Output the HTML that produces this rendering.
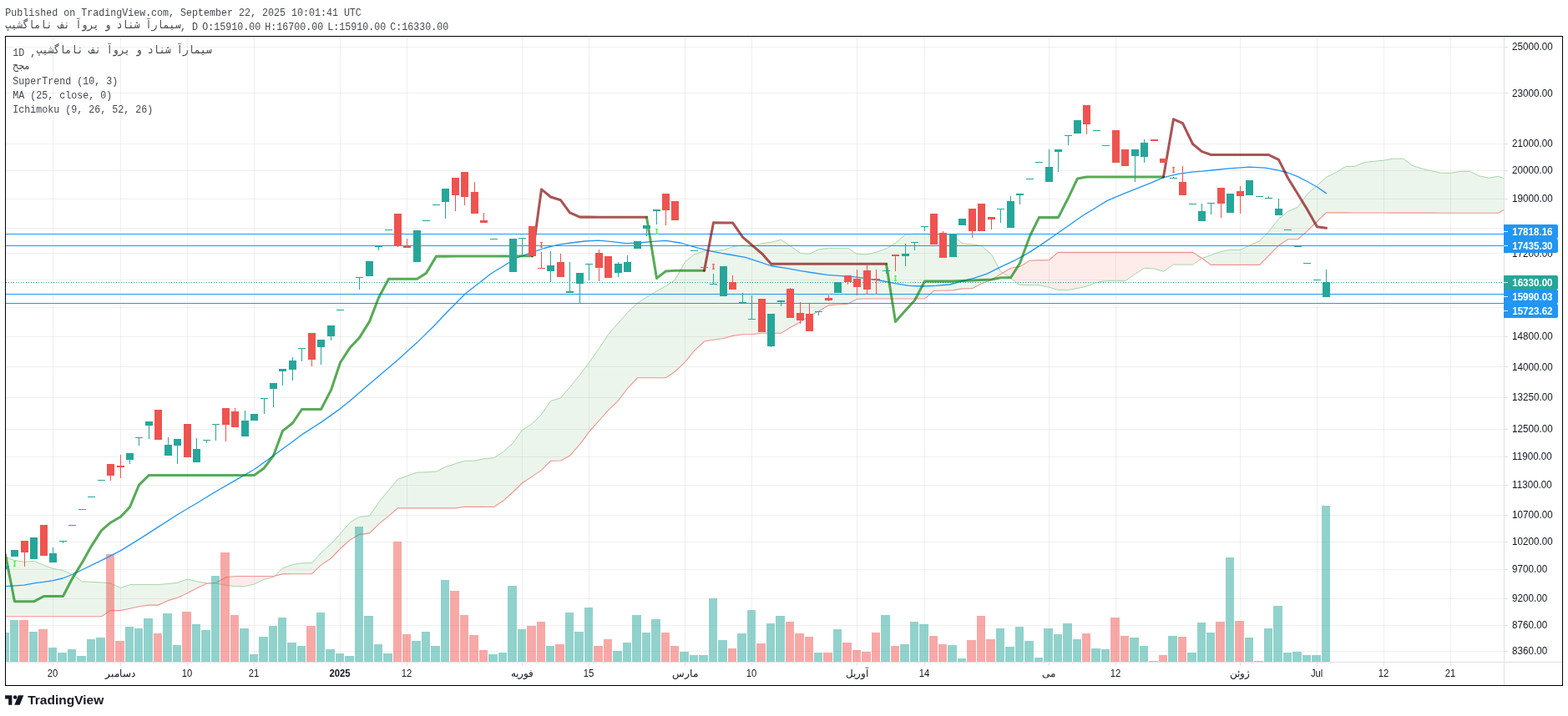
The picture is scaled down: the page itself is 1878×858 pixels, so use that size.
<!DOCTYPE html><html><head><meta charset="utf-8"><title>chart</title><style>html,body{margin:0;padding:0;background:#fff}body{width:1878px;height:858px;position:relative;overflow:hidden;font-family:"Liberation Sans",sans-serif}</style></head><body><svg width="1878" height="858" viewBox="0 0 1878 858" style="position:absolute;left:0;top:0;will-change:transform">
<defs><clipPath id="cp"><rect x="7" y="44" width="1794" height="749"/></clipPath>
</defs>
<rect width="1878" height="858" fill="#fff"/>
<g shape-rendering="crispEdges" fill="rgb(42,46,57)" fill-opacity="0.07"><rect x="7" y="56" width="1794" height="1"/><rect x="7" y="111" width="1794" height="1"/><rect x="7" y="172" width="1794" height="1"/><rect x="7" y="204" width="1794" height="1"/><rect x="7" y="238" width="1794" height="1"/><rect x="7" y="273" width="1794" height="1"/><rect x="7" y="303" width="1794" height="1"/><rect x="7" y="335" width="1794" height="1"/><rect x="7" y="368" width="1794" height="1"/><rect x="7" y="403" width="1794" height="1"/><rect x="7" y="439" width="1794" height="1"/><rect x="7" y="476" width="1794" height="1"/><rect x="7" y="514" width="1794" height="1"/><rect x="7" y="547" width="1794" height="1"/><rect x="7" y="581" width="1794" height="1"/><rect x="7" y="617" width="1794" height="1"/><rect x="7" y="649" width="1794" height="1"/><rect x="7" y="682" width="1794" height="1"/><rect x="7" y="717" width="1794" height="1"/><rect x="7" y="749" width="1794" height="1"/><rect x="7" y="780" width="1794" height="1"/><rect x="63" y="44" width="1" height="749"/><rect x="144" y="44" width="1" height="749"/><rect x="224" y="44" width="1" height="749"/><rect x="304" y="44" width="1" height="749"/><rect x="407" y="44" width="1" height="749"/><rect x="487" y="44" width="1" height="749"/><rect x="625" y="44" width="1" height="749"/><rect x="705" y="44" width="1" height="749"/><rect x="820" y="44" width="1" height="749"/><rect x="900" y="44" width="1" height="749"/><rect x="1026" y="44" width="1" height="749"/><rect x="1107" y="44" width="1" height="749"/><rect x="1256" y="44" width="1" height="749"/><rect x="1336" y="44" width="1" height="749"/><rect x="1485" y="44" width="1" height="749"/><rect x="1577" y="44" width="1" height="749"/><rect x="1657" y="44" width="1" height="749"/><rect x="1737" y="44" width="1" height="749"/></g>
<g clip-path="url(#cp)">
<path d="M6.5,667.7L17.5,671.5L17.5,738.7L6.5,738.7ZM17.5,671.5L29.5,673.3L29.5,738.7L17.5,738.7ZM29.5,673.3L40.5,672.3L40.5,738.7L29.5,738.7ZM40.5,672.3L52.5,677.3L52.5,738.7L40.5,738.7ZM52.5,677.3L63.5,681.4L63.5,738.7L52.5,738.7ZM63.5,681.4L75.5,683.6L75.5,738.7L63.5,738.7ZM75.5,683.6L86.5,688.5L86.5,738.7L75.5,738.7ZM86.5,688.5L98.5,697.0L98.5,738.7L86.5,738.7ZM98.5,697.0L109.5,697.4L109.5,738.7L98.5,738.7ZM109.5,697.4L121.5,698.0L121.5,738.7L109.5,738.7ZM121.5,698.0L132.5,699.0L132.5,731.6L121.5,738.7ZM132.5,699.0L144.5,704.5L144.5,731.6L132.5,731.6ZM144.5,704.5L155.5,700.6L155.5,729.2L144.5,731.6ZM155.5,700.6L166.5,700.6L166.5,726.7L155.5,729.2ZM166.5,700.6L178.5,700.6L178.5,725.1L166.5,726.7ZM178.5,700.6L189.5,700.6L189.5,725.1L178.5,725.1ZM189.5,700.6L201.5,699.5L201.5,719.6L189.5,725.1ZM201.5,699.5L212.5,698.3L212.5,716.3L201.5,719.6ZM212.5,698.3L224.5,694.1L224.5,710.7L212.5,716.3ZM224.5,694.1L235.5,696.7L235.5,704.9L224.5,710.7ZM235.5,696.7L247.5,699.0L247.5,699.3L235.5,704.9ZM247.5,699.0L250.8,699.0L247.5,699.3ZM329.0,690.1L338.5,681.0L338.5,687.9ZM338.5,681.0L350.5,676.5L350.5,687.8L338.5,687.9ZM350.5,676.5L361.5,674.8L361.5,687.7L350.5,687.8ZM361.5,674.8L373.5,674.5L373.5,687.6L361.5,687.7ZM373.5,674.5L384.5,662.4L384.5,677.1L373.5,687.6ZM384.5,662.4L396.5,651.7L396.5,669.0L384.5,677.1ZM396.5,651.7L407.5,639.6L407.5,657.5L396.5,669.0ZM407.5,639.6L419.5,625.9L419.5,646.8L407.5,657.5ZM419.5,625.9L430.5,619.3L430.5,640.6L419.5,646.8ZM430.5,619.3L442.5,618.4L442.5,638.9L430.5,640.6ZM442.5,618.4L453.5,602.0L453.5,628.1L442.5,638.9ZM453.5,602.0L465.5,587.3L465.5,618.4L453.5,628.1ZM465.5,587.3L476.5,574.3L476.5,608.9L465.5,618.4ZM476.5,574.3L487.5,570.4L487.5,608.9L476.5,608.9ZM487.5,570.4L499.5,566.1L499.5,608.9L487.5,608.9ZM499.5,566.1L510.5,565.8L510.5,608.9L499.5,608.9ZM510.5,565.8L522.5,565.1L522.5,608.9L510.5,608.9ZM522.5,565.1L533.5,559.6L533.5,608.9L522.5,608.9ZM533.5,559.6L545.5,555.7L545.5,608.9L533.5,608.9ZM545.5,555.7L556.5,552.4L556.5,607.3L545.5,608.9ZM556.5,552.4L568.5,552.1L568.5,607.4L556.5,607.3ZM568.5,552.1L579.5,549.7L579.5,607.4L568.5,607.4ZM579.5,549.7L591.5,548.7L591.5,607.5L579.5,607.4ZM591.5,548.7L602.5,541.6L602.5,600.3L591.5,607.5ZM602.5,541.6L614.5,530.8L614.5,589.5L602.5,600.3ZM614.5,530.8L625.5,515.1L625.5,578.8L614.5,589.5ZM625.5,515.1L637.5,507.9L637.5,570.9L625.5,578.8ZM637.5,507.9L648.5,496.5L648.5,563.4L637.5,570.9ZM648.5,496.5L659.5,480.5L659.5,552.3L648.5,563.4ZM659.5,480.5L671.5,476.9L671.5,552.0L659.5,552.3ZM671.5,476.9L682.5,463.9L682.5,546.1L671.5,552.0ZM682.5,463.9L694.5,449.2L694.5,532.4L682.5,546.1ZM694.5,449.2L705.5,434.5L705.5,517.7L694.5,532.4ZM705.5,434.5L717.5,417.5L717.5,504.0L705.5,517.7ZM717.5,417.5L728.5,400.8L728.5,491.6L717.5,504.0ZM728.5,400.8L740.5,387.1L740.5,480.2L728.5,491.6ZM740.5,387.1L751.5,374.5L751.5,465.5L740.5,480.2ZM751.5,374.5L763.5,363.2L763.5,452.8L751.5,465.5ZM763.5,363.2L774.5,356.1L774.5,452.8L763.5,452.8ZM774.5,356.1L786.5,348.9L786.5,452.8L774.5,452.8ZM786.5,348.9L797.5,342.7L797.5,452.8L786.5,452.8ZM797.5,342.7L808.5,335.3L808.5,445.2L797.5,452.8ZM808.5,335.3L820.5,313.9L820.5,433.8L808.5,445.2ZM820.5,313.9L831.5,304.7L831.5,420.4L820.5,433.8ZM831.5,304.7L843.5,300.8L843.5,409.0L831.5,420.4ZM843.5,300.8L854.5,300.7L854.5,407.3L843.5,409.0ZM854.5,300.7L866.5,299.6L866.5,405.5L854.5,407.3ZM866.5,299.6L877.5,295.8L877.5,402.4L866.5,405.5ZM877.5,295.8L889.5,293.7L889.5,400.8L877.5,402.4ZM889.5,293.7L900.5,296.0L900.5,400.8L889.5,400.8ZM900.5,296.0L912.5,291.7L912.5,399.2L900.5,400.8ZM912.5,291.7L923.5,290.4L923.5,399.2L912.5,399.2ZM923.5,290.4L935.5,287.2L935.5,399.2L923.5,399.2ZM935.5,287.2L946.5,294.7L946.5,392.6L935.5,399.2ZM946.5,294.7L958.5,303.2L958.5,386.1L946.5,392.6ZM958.5,303.2L969.5,304.5L969.5,378.6L958.5,386.1ZM969.5,304.5L980.5,298.9L980.5,373.0L969.5,378.6ZM980.5,298.9L992.5,297.3L992.5,365.9L980.5,373.0ZM992.5,297.3L1003.5,297.3L1003.5,365.0L992.5,365.9ZM1003.5,297.3L1015.5,297.3L1015.5,364.2L1003.5,365.0ZM1015.5,297.3L1026.5,304.5L1026.5,358.3L1015.5,364.2ZM1026.5,304.5L1038.5,304.8L1038.5,358.0L1026.5,358.3ZM1038.5,304.8L1049.5,302.2L1049.5,358.0L1038.5,358.0ZM1049.5,302.2L1061.5,297.9L1061.5,358.0L1049.5,358.0ZM1061.5,297.9L1072.5,291.4L1072.5,358.0L1061.5,358.0ZM1072.5,291.4L1084.5,281.0L1084.5,358.0L1072.5,358.0ZM1084.5,281.0L1095.5,280.3L1095.5,358.0L1084.5,358.0ZM1095.5,280.3L1107.5,280.3L1107.5,358.0L1095.5,358.0ZM1107.5,280.3L1118.5,280.4L1118.5,348.5L1107.5,358.0ZM1118.5,280.4L1129.5,280.6L1129.5,348.2L1118.5,348.5ZM1129.5,280.6L1141.5,281.6L1141.5,347.9L1129.5,348.2ZM1141.5,281.6L1152.5,291.8L1152.5,345.9L1141.5,347.9ZM1152.5,291.8L1164.5,292.8L1164.5,345.8L1152.5,345.9ZM1164.5,292.8L1175.5,294.5L1175.5,340.0L1164.5,345.8ZM1175.5,294.5L1187.5,305.0L1187.5,335.1L1175.5,340.0ZM1187.5,305.0L1198.5,325.3L1198.5,328.5L1187.5,335.1ZM1198.5,325.3L1201.0,327.0L1198.5,328.5ZM1439.5,309.5L1450.5,305.6L1450.5,317.4L1439.5,309.5ZM1450.5,305.6L1462.5,301.4L1462.5,317.4L1450.5,317.4ZM1462.5,301.4L1473.5,299.4L1473.5,317.4L1462.5,317.4ZM1473.5,299.4L1485.5,299.4L1485.5,317.4L1473.5,317.4ZM1485.5,299.4L1496.5,294.2L1496.5,317.4L1485.5,317.4ZM1496.5,294.2L1508.5,289.0L1508.5,317.4L1496.5,317.4ZM1508.5,289.0L1519.5,277.6L1519.5,306.3L1508.5,317.4ZM1519.5,277.6L1531.5,262.2L1531.5,294.2L1519.5,306.3ZM1531.5,262.2L1542.5,253.4L1542.5,286.7L1531.5,294.2ZM1542.5,253.4L1554.5,248.2L1554.5,286.7L1542.5,286.7ZM1554.5,248.2L1565.5,232.8L1565.5,276.9L1554.5,286.7ZM1565.5,232.8L1577.5,222.4L1577.5,265.5L1565.5,276.9ZM1577.5,222.4L1588.5,212.3L1588.5,254.9L1577.5,265.5ZM1588.5,212.3L1600.5,206.5L1600.5,254.9L1588.5,254.9ZM1600.5,206.5L1611.5,199.5L1611.5,254.9L1600.5,254.9ZM1611.5,199.5L1622.5,199.4L1622.5,255.0L1611.5,254.9ZM1622.5,199.4L1634.5,194.3L1634.5,255.0L1622.5,255.0ZM1634.5,194.3L1645.5,193.4L1645.5,255.0L1634.5,255.0ZM1645.5,193.4L1657.5,192.1L1657.5,255.0L1645.5,255.0ZM1657.5,192.1L1668.5,190.2L1668.5,255.1L1657.5,255.0ZM1668.5,190.2L1680.5,190.2L1680.5,255.1L1668.5,255.1ZM1680.5,190.2L1691.5,198.3L1691.5,255.1L1680.5,255.1ZM1691.5,198.3L1703.5,202.2L1703.5,255.1L1691.5,255.1ZM1703.5,202.2L1714.5,204.8L1714.5,255.1L1703.5,255.1ZM1714.5,204.8L1726.5,207.3L1726.5,255.2L1714.5,255.1ZM1726.5,207.3L1737.5,207.3L1737.5,255.2L1726.5,255.2ZM1737.5,207.3L1749.5,205.4L1749.5,255.2L1737.5,255.2ZM1749.5,205.4L1760.5,205.3L1760.5,255.2L1749.5,255.2ZM1760.5,205.3L1771.5,210.8L1771.5,255.3L1760.5,255.2ZM1771.5,210.8L1783.5,213.3L1783.5,255.3L1771.5,255.3ZM1783.5,213.3L1794.5,211.2L1794.5,255.3L1783.5,255.3ZM1794.5,211.2L1806.5,215.9L1806.5,248.5L1794.5,255.3Z" fill="rgba(67,160,71,0.1)"/>
<path d="M250.8,699.0L258.5,699.0L258.5,698.3ZM258.5,699.0L270.5,701.3L270.5,691.8L258.5,698.3ZM270.5,701.3L281.5,702.6L281.5,690.5L270.5,691.8ZM281.5,702.6L293.5,702.6L293.5,690.5L281.5,690.5ZM293.5,702.6L304.5,700.0L304.5,690.5L293.5,690.5ZM304.5,700.0L316.5,694.1L316.5,690.5L304.5,690.5ZM316.5,694.1L327.5,691.6L327.5,690.5L316.5,690.5ZM327.5,691.6L329.0,690.1L327.5,690.5ZM1201.0,327.0L1210.5,333.4L1210.5,321.3ZM1210.5,333.4L1221.5,341.6L1221.5,319.4L1210.5,321.3ZM1221.5,341.6L1233.5,341.6L1233.5,312.2L1221.5,319.4ZM1233.5,341.6L1244.5,341.6L1244.5,311.9L1233.5,312.2ZM1244.5,341.6L1256.5,344.2L1256.5,311.6L1244.5,311.9ZM1256.5,344.2L1267.5,347.5L1267.5,302.4L1256.5,311.6ZM1267.5,347.5L1279.5,347.5L1279.5,302.4L1267.5,302.4ZM1279.5,347.5L1290.5,345.5L1290.5,302.4L1279.5,302.4ZM1290.5,345.5L1301.5,343.2L1301.5,302.4L1290.5,302.4ZM1301.5,343.2L1313.5,338.3L1313.5,302.4L1301.5,302.4ZM1313.5,338.3L1324.5,336.7L1324.5,302.4L1313.5,302.4ZM1324.5,336.7L1336.5,336.7L1336.5,302.4L1324.5,302.4ZM1336.5,336.7L1347.5,336.7L1347.5,302.4L1336.5,302.4ZM1347.5,336.7L1359.5,328.5L1359.5,302.4L1347.5,302.4ZM1359.5,328.5L1370.5,321.3L1370.5,302.4L1359.5,302.4ZM1370.5,321.3L1382.5,322.0L1382.5,302.4L1370.5,302.4ZM1382.5,322.0L1393.5,325.3L1393.5,302.4L1382.5,302.4ZM1393.5,325.3L1405.5,317.1L1405.5,302.4L1393.5,302.4ZM1405.5,317.1L1416.5,317.1L1416.5,302.4L1405.5,302.4ZM1416.5,317.1L1428.5,317.1L1428.5,302.4L1416.5,302.4ZM1428.5,317.1L1439.5,309.5L1439.5,309.5L1428.5,302.4Z" fill="rgba(244,67,54,0.1)"/>
<polyline fill="none" stroke="#a5d6a7" stroke-width="1" points="6.5,667.7 17.5,671.5 29.5,673.3 40.5,672.3 52.5,677.3 63.5,681.4 75.5,683.6 86.5,688.5 98.5,697.0 109.5,697.4 121.5,698.0 132.5,699.0 144.5,704.5 155.5,700.6 166.5,700.6 178.5,700.6 189.5,700.6 201.5,699.5 212.5,698.3 224.5,694.1 235.5,696.7 247.5,699.0 258.5,699.0 270.5,701.3 281.5,702.6 293.5,702.6 304.5,700.0 316.5,694.1 327.5,691.6 338.5,681.0 350.5,676.5 361.5,674.8 373.5,674.5 384.5,662.4 396.5,651.7 407.5,639.6 419.5,625.9 430.5,619.3 442.5,618.4 453.5,602.0 465.5,587.3 476.5,574.3 487.5,570.4 499.5,566.1 510.5,565.8 522.5,565.1 533.5,559.6 545.5,555.7 556.5,552.4 568.5,552.1 579.5,549.7 591.5,548.7 602.5,541.6 614.5,530.8 625.5,515.1 637.5,507.9 648.5,496.5 659.5,480.5 671.5,476.9 682.5,463.9 694.5,449.2 705.5,434.5 717.5,417.5 728.5,400.8 740.5,387.1 751.5,374.5 763.5,363.2 774.5,356.1 786.5,348.9 797.5,342.7 808.5,335.3 820.5,313.9 831.5,304.7 843.5,300.8 854.5,300.7 866.5,299.6 877.5,295.8 889.5,293.7 900.5,296.0 912.5,291.7 923.5,290.4 935.5,287.2 946.5,294.7 958.5,303.2 969.5,304.5 980.5,298.9 992.5,297.3 1003.5,297.3 1015.5,297.3 1026.5,304.5 1038.5,304.8 1049.5,302.2 1061.5,297.9 1072.5,291.4 1084.5,281.0 1095.5,280.3 1107.5,280.3 1118.5,280.4 1129.5,280.6 1141.5,281.6 1152.5,291.8 1164.5,292.8 1175.5,294.5 1187.5,305.0 1198.5,325.3 1210.5,333.4 1221.5,341.6 1233.5,341.6 1244.5,341.6 1256.5,344.2 1267.5,347.5 1279.5,347.5 1290.5,345.5 1301.5,343.2 1313.5,338.3 1324.5,336.7 1336.5,336.7 1347.5,336.7 1359.5,328.5 1370.5,321.3 1382.5,322.0 1393.5,325.3 1405.5,317.1 1416.5,317.1 1428.5,317.1 1439.5,309.5 1450.5,305.6 1462.5,301.4 1473.5,299.4 1485.5,299.4 1496.5,294.2 1508.5,289.0 1519.5,277.6 1531.5,262.2 1542.5,253.4 1554.5,248.2 1565.5,232.8 1577.5,222.4 1588.5,212.3 1600.5,206.5 1611.5,199.5 1622.5,199.4 1634.5,194.3 1645.5,193.4 1657.5,192.1 1668.5,190.2 1680.5,190.2 1691.5,198.3 1703.5,202.2 1714.5,204.8 1726.5,207.3 1737.5,207.3 1749.5,205.4 1760.5,205.3 1771.5,210.8 1783.5,213.3 1794.5,211.2 1806.5,215.9"/>
<polyline fill="none" stroke="#ee9490" stroke-width="1.1" points="6.5,738.7 17.5,738.7 29.5,738.7 40.5,738.7 52.5,738.7 63.5,738.7 75.5,738.7 86.5,738.7 98.5,738.7 109.5,738.7 121.5,738.7 132.5,731.6 144.5,731.6 155.5,729.2 166.5,726.7 178.5,725.1 189.5,725.1 201.5,719.6 212.5,716.3 224.5,710.7 235.5,704.9 247.5,699.3 258.5,698.3 270.5,691.8 281.5,690.5 293.5,690.5 304.5,690.5 316.5,690.5 327.5,690.5 338.5,687.9 350.5,687.8 361.5,687.7 373.5,687.6 384.5,677.1 396.5,669.0 407.5,657.5 419.5,646.8 430.5,640.6 442.5,638.9 453.5,628.1 465.5,618.4 476.5,608.9 487.5,608.9 499.5,608.9 510.5,608.9 522.5,608.9 533.5,608.9 545.5,608.9 556.5,607.3 568.5,607.4 579.5,607.4 591.5,607.5 602.5,600.3 614.5,589.5 625.5,578.8 637.5,570.9 648.5,563.4 659.5,552.3 671.5,552.0 682.5,546.1 694.5,532.4 705.5,517.7 717.5,504.0 728.5,491.6 740.5,480.2 751.5,465.5 763.5,452.8 774.5,452.8 786.5,452.8 797.5,452.8 808.5,445.2 820.5,433.8 831.5,420.4 843.5,409.0 854.5,407.3 866.5,405.5 877.5,402.4 889.5,400.8 900.5,400.8 912.5,399.2 923.5,399.2 935.5,399.2 946.5,392.6 958.5,386.1 969.5,378.6 980.5,373.0 992.5,365.9 1003.5,365.0 1015.5,364.2 1026.5,358.3 1038.5,358.0 1049.5,358.0 1061.5,358.0 1072.5,358.0 1084.5,358.0 1095.5,358.0 1107.5,358.0 1118.5,348.5 1129.5,348.2 1141.5,347.9 1152.5,345.9 1164.5,345.8 1175.5,340.0 1187.5,335.1 1198.5,328.5 1210.5,321.3 1221.5,319.4 1233.5,312.2 1244.5,311.9 1256.5,311.6 1267.5,302.4 1279.5,302.4 1290.5,302.4 1301.5,302.4 1313.5,302.4 1324.5,302.4 1336.5,302.4 1347.5,302.4 1359.5,302.4 1370.5,302.4 1382.5,302.4 1393.5,302.4 1405.5,302.4 1416.5,302.4 1428.5,302.4 1439.5,309.5 1450.5,317.4 1462.5,317.4 1473.5,317.4 1485.5,317.4 1496.5,317.4 1508.5,317.4 1519.5,306.3 1531.5,294.2 1542.5,286.7 1554.5,286.7 1565.5,276.9 1577.5,265.5 1588.5,254.9 1600.5,254.9 1611.5,254.9 1622.5,255.0 1634.5,255.0 1645.5,255.0 1657.5,255.0 1668.5,255.1 1680.5,255.1 1691.5,255.1 1703.5,255.1 1714.5,255.1 1726.5,255.2 1737.5,255.2 1749.5,255.2 1760.5,255.2 1771.5,255.3 1783.5,255.3 1794.5,255.3 1806.5,248.5"/>
<g shape-rendering="crispEdges"><rect x="1" y="758" width="10" height="35" fill="rgba(38,166,154,0.5)"/><rect x="12" y="743" width="10" height="50" fill="rgba(38,166,154,0.5)"/><rect x="23" y="743" width="11" height="50" fill="rgba(239,83,80,0.5)"/><rect x="35" y="757" width="10" height="36" fill="rgba(38,166,154,0.5)"/><rect x="46" y="754" width="11" height="39" fill="rgba(239,83,80,0.5)"/><rect x="58" y="776" width="10" height="17" fill="rgba(38,166,154,0.5)"/><rect x="69" y="782" width="11" height="11" fill="rgba(38,166,154,0.5)"/><rect x="81" y="778" width="10" height="15" fill="rgba(38,166,154,0.5)"/><rect x="92" y="786" width="11" height="7" fill="rgba(38,166,154,0.5)"/><rect x="104" y="766" width="10" height="27" fill="rgba(38,166,154,0.5)"/><rect x="115" y="764" width="11" height="29" fill="rgba(38,166,154,0.5)"/><rect x="127" y="664" width="10" height="129" fill="rgba(239,83,80,0.5)"/><rect x="138" y="768" width="11" height="25" fill="rgba(239,83,80,0.5)"/><rect x="150" y="751" width="10" height="42" fill="rgba(38,166,154,0.5)"/><rect x="161" y="753" width="10" height="40" fill="rgba(38,166,154,0.5)"/><rect x="172" y="741" width="11" height="52" fill="rgba(38,166,154,0.5)"/><rect x="184" y="759" width="10" height="34" fill="rgba(239,83,80,0.5)"/><rect x="195" y="735" width="11" height="58" fill="rgba(38,166,154,0.5)"/><rect x="207" y="773" width="10" height="20" fill="rgba(38,166,154,0.5)"/><rect x="218" y="733" width="11" height="60" fill="rgba(239,83,80,0.5)"/><rect x="230" y="748" width="10" height="45" fill="rgba(38,166,154,0.5)"/><rect x="241" y="755" width="11" height="38" fill="rgba(38,166,154,0.5)"/><rect x="253" y="690" width="10" height="103" fill="rgba(38,166,154,0.5)"/><rect x="264" y="662" width="11" height="131" fill="rgba(239,83,80,0.5)"/><rect x="276" y="737" width="10" height="56" fill="rgba(239,83,80,0.5)"/><rect x="287" y="753" width="11" height="40" fill="rgba(38,166,154,0.5)"/><rect x="299" y="784" width="10" height="9" fill="rgba(38,166,154,0.5)"/><rect x="310" y="763" width="11" height="30" fill="rgba(38,166,154,0.5)"/><rect x="322" y="750" width="10" height="43" fill="rgba(38,166,154,0.5)"/><rect x="333" y="740" width="10" height="53" fill="rgba(38,166,154,0.5)"/><rect x="344" y="770" width="11" height="23" fill="rgba(38,166,154,0.5)"/><rect x="356" y="774" width="10" height="19" fill="rgba(38,166,154,0.5)"/><rect x="367" y="750" width="11" height="43" fill="rgba(239,83,80,0.5)"/><rect x="379" y="734" width="10" height="59" fill="rgba(38,166,154,0.5)"/><rect x="390" y="778" width="11" height="15" fill="rgba(38,166,154,0.5)"/><rect x="402" y="783" width="10" height="10" fill="rgba(38,166,154,0.5)"/><rect x="413" y="786" width="11" height="7" fill="rgba(38,166,154,0.5)"/><rect x="425" y="631" width="10" height="162" fill="rgba(38,166,154,0.5)"/><rect x="436" y="738" width="11" height="55" fill="rgba(38,166,154,0.5)"/><rect x="448" y="772" width="10" height="21" fill="rgba(38,166,154,0.5)"/><rect x="459" y="783" width="11" height="10" fill="rgba(38,166,154,0.5)"/><rect x="471" y="649" width="10" height="144" fill="rgba(239,83,80,0.5)"/><rect x="482" y="760" width="10" height="33" fill="rgba(239,83,80,0.5)"/><rect x="493" y="768" width="11" height="25" fill="rgba(38,166,154,0.5)"/><rect x="505" y="757" width="10" height="36" fill="rgba(38,166,154,0.5)"/><rect x="516" y="774" width="11" height="19" fill="rgba(38,166,154,0.5)"/><rect x="528" y="695" width="10" height="98" fill="rgba(38,166,154,0.5)"/><rect x="539" y="708" width="11" height="85" fill="rgba(239,83,80,0.5)"/><rect x="551" y="737" width="10" height="56" fill="rgba(239,83,80,0.5)"/><rect x="562" y="761" width="11" height="32" fill="rgba(239,83,80,0.5)"/><rect x="574" y="779" width="10" height="14" fill="rgba(239,83,80,0.5)"/><rect x="585" y="784" width="11" height="9" fill="rgba(38,166,154,0.5)"/><rect x="597" y="782" width="10" height="11" fill="rgba(38,166,154,0.5)"/><rect x="608" y="702" width="11" height="91" fill="rgba(38,166,154,0.5)"/><rect x="620" y="754" width="10" height="39" fill="rgba(38,166,154,0.5)"/><rect x="631" y="750" width="11" height="43" fill="rgba(239,83,80,0.5)"/><rect x="643" y="745" width="10" height="48" fill="rgba(239,83,80,0.5)"/><rect x="654" y="774" width="10" height="19" fill="rgba(38,166,154,0.5)"/><rect x="665" y="772" width="11" height="21" fill="rgba(239,83,80,0.5)"/><rect x="677" y="734" width="10" height="59" fill="rgba(38,166,154,0.5)"/><rect x="688" y="757" width="11" height="36" fill="rgba(38,166,154,0.5)"/><rect x="700" y="728" width="10" height="65" fill="rgba(38,166,154,0.5)"/><rect x="711" y="774" width="11" height="19" fill="rgba(239,83,80,0.5)"/><rect x="723" y="766" width="10" height="27" fill="rgba(239,83,80,0.5)"/><rect x="734" y="780" width="11" height="13" fill="rgba(38,166,154,0.5)"/><rect x="746" y="770" width="10" height="23" fill="rgba(38,166,154,0.5)"/><rect x="757" y="737" width="11" height="56" fill="rgba(38,166,154,0.5)"/><rect x="769" y="758" width="10" height="35" fill="rgba(38,166,154,0.5)"/><rect x="780" y="742" width="11" height="51" fill="rgba(38,166,154,0.5)"/><rect x="792" y="758" width="10" height="35" fill="rgba(239,83,80,0.5)"/><rect x="803" y="774" width="10" height="19" fill="rgba(239,83,80,0.5)"/><rect x="814" y="781" width="11" height="12" fill="rgba(38,166,154,0.5)"/><rect x="826" y="785" width="10" height="8" fill="rgba(38,166,154,0.5)"/><rect x="837" y="785" width="11" height="8" fill="rgba(38,166,154,0.5)"/><rect x="849" y="717" width="10" height="76" fill="rgba(38,166,154,0.5)"/><rect x="860" y="767" width="11" height="26" fill="rgba(38,166,154,0.5)"/><rect x="872" y="777" width="10" height="16" fill="rgba(239,83,80,0.5)"/><rect x="883" y="759" width="11" height="34" fill="rgba(38,166,154,0.5)"/><rect x="895" y="731" width="10" height="62" fill="rgba(38,166,154,0.5)"/><rect x="906" y="771" width="11" height="22" fill="rgba(239,83,80,0.5)"/><rect x="918" y="747" width="10" height="46" fill="rgba(38,166,154,0.5)"/><rect x="929" y="738" width="11" height="55" fill="rgba(38,166,154,0.5)"/><rect x="941" y="745" width="10" height="48" fill="rgba(239,83,80,0.5)"/><rect x="952" y="759" width="11" height="34" fill="rgba(239,83,80,0.5)"/><rect x="964" y="763" width="10" height="30" fill="rgba(239,83,80,0.5)"/><rect x="975" y="782" width="10" height="11" fill="rgba(38,166,154,0.5)"/><rect x="986" y="782" width="11" height="11" fill="rgba(239,83,80,0.5)"/><rect x="998" y="754" width="10" height="39" fill="rgba(38,166,154,0.5)"/><rect x="1009" y="770" width="11" height="23" fill="rgba(239,83,80,0.5)"/><rect x="1021" y="779" width="10" height="14" fill="rgba(239,83,80,0.5)"/><rect x="1032" y="781" width="11" height="12" fill="rgba(239,83,80,0.5)"/><rect x="1044" y="758" width="10" height="35" fill="rgba(239,83,80,0.5)"/><rect x="1055" y="737" width="11" height="56" fill="rgba(38,166,154,0.5)"/><rect x="1067" y="774" width="10" height="19" fill="rgba(239,83,80,0.5)"/><rect x="1078" y="772" width="11" height="21" fill="rgba(38,166,154,0.5)"/><rect x="1090" y="745" width="10" height="48" fill="rgba(38,166,154,0.5)"/><rect x="1101" y="748" width="11" height="45" fill="rgba(38,166,154,0.5)"/><rect x="1113" y="762" width="10" height="31" fill="rgba(239,83,80,0.5)"/><rect x="1124" y="772" width="10" height="21" fill="rgba(239,83,80,0.5)"/><rect x="1135" y="773" width="11" height="20" fill="rgba(38,166,154,0.5)"/><rect x="1147" y="789" width="10" height="4" fill="rgba(38,166,154,0.5)"/><rect x="1158" y="767" width="11" height="26" fill="rgba(239,83,80,0.5)"/><rect x="1170" y="738" width="10" height="55" fill="rgba(239,83,80,0.5)"/><rect x="1181" y="766" width="11" height="27" fill="rgba(239,83,80,0.5)"/><rect x="1193" y="753" width="10" height="40" fill="rgba(38,166,154,0.5)"/><rect x="1204" y="775" width="11" height="18" fill="rgba(38,166,154,0.5)"/><rect x="1216" y="751" width="10" height="42" fill="rgba(38,166,154,0.5)"/><rect x="1227" y="768" width="11" height="25" fill="rgba(38,166,154,0.5)"/><rect x="1239" y="788" width="10" height="5" fill="rgba(38,166,154,0.5)"/><rect x="1250" y="753" width="11" height="40" fill="rgba(38,166,154,0.5)"/><rect x="1262" y="760" width="10" height="33" fill="rgba(38,166,154,0.5)"/><rect x="1273" y="747" width="11" height="46" fill="rgba(38,166,154,0.5)"/><rect x="1285" y="766" width="10" height="27" fill="rgba(38,166,154,0.5)"/><rect x="1296" y="759" width="10" height="34" fill="rgba(239,83,80,0.5)"/><rect x="1307" y="777" width="11" height="16" fill="rgba(38,166,154,0.5)"/><rect x="1319" y="778" width="10" height="15" fill="rgba(38,166,154,0.5)"/><rect x="1330" y="740" width="11" height="53" fill="rgba(239,83,80,0.5)"/><rect x="1342" y="762" width="10" height="31" fill="rgba(239,83,80,0.5)"/><rect x="1353" y="764" width="11" height="29" fill="rgba(38,166,154,0.5)"/><rect x="1365" y="774" width="10" height="19" fill="rgba(38,166,154,0.5)"/><rect x="1376" y="792" width="11" height="1" fill="rgba(239,83,80,0.5)"/><rect x="1388" y="785" width="10" height="8" fill="rgba(239,83,80,0.5)"/><rect x="1399" y="762" width="11" height="31" fill="rgba(38,166,154,0.5)"/><rect x="1411" y="763" width="10" height="30" fill="rgba(239,83,80,0.5)"/><rect x="1422" y="782" width="11" height="11" fill="rgba(38,166,154,0.5)"/><rect x="1434" y="746" width="10" height="47" fill="rgba(38,166,154,0.5)"/><rect x="1445" y="758" width="10" height="35" fill="rgba(38,166,154,0.5)"/><rect x="1456" y="745" width="11" height="48" fill="rgba(239,83,80,0.5)"/><rect x="1468" y="668" width="10" height="125" fill="rgba(38,166,154,0.5)"/><rect x="1479" y="744" width="11" height="49" fill="rgba(239,83,80,0.5)"/><rect x="1491" y="764" width="10" height="29" fill="rgba(38,166,154,0.5)"/><rect x="1502" y="792" width="11" height="1" fill="rgba(38,166,154,0.5)"/><rect x="1514" y="753" width="10" height="40" fill="rgba(38,166,154,0.5)"/><rect x="1525" y="726" width="11" height="67" fill="rgba(38,166,154,0.5)"/><rect x="1537" y="782" width="10" height="11" fill="rgba(38,166,154,0.5)"/><rect x="1548" y="781" width="11" height="12" fill="rgba(38,166,154,0.5)"/><rect x="1560" y="785" width="10" height="8" fill="rgba(38,166,154,0.5)"/><rect x="1571" y="785" width="11" height="8" fill="rgba(38,166,154,0.5)"/><rect x="1583" y="606" width="10" height="187" fill="rgba(38,166,154,0.5)"/></g>
<g shape-rendering="crispEdges" fill="#2196f3"><rect x="7" y="280" width="1794" height="1"/><rect x="7" y="294" width="1794" height="1"/><rect x="7" y="352" width="1794" height="1"/><rect x="7" y="363" width="1794" height="1"/></g>
<line x1="7" y1="338.5" x2="1801" y2="338.5" stroke="#26a69a" stroke-width="1" stroke-dasharray="1 2" shape-rendering="crispEdges"/>
<polyline fill="none" stroke="#2196f3" stroke-width="1.3" stroke-linejoin="round" points="6.4,702.7 28.8,701.1 40.9,698.8 52.2,697.4 63.7,695.7 75.1,693.0 86.5,688.5 97.9,683.0 121.4,671.6 144.0,660.1 166.8,646.1 189.7,631.4 212.5,616.7 235.7,603.0 258.6,589.0 281.4,575.9 304.5,562.5 327.5,546.0 350.4,529.2 361.9,520.6 384.8,505.9 407.7,489.6 419.2,480.2 442.1,460.4 475.9,431.8 499.4,410.6 521.6,388.7 534.7,374.7 557.5,351.8 574.9,338.3 587.9,328.0 602.6,319.0 619.0,309.0 635.3,303.1 651.6,297.5 667.9,293.3 684.3,291.0 700.6,289.0 716.9,288.1 733.2,289.7 749.6,291.7 765.9,291.0 782.2,289.4 797.5,288.4 814.9,291.0 831.2,295.9 847.5,300.1 863.8,303.4 876.3,305.5 892.6,308.4 909.0,313.6 923.3,318.5 941.6,321.4 957.9,324.4 974.3,327.0 990.6,329.3 1006.9,330.6 1023.2,331.9 1039.6,333.9 1055.9,336.5 1072.2,339.7 1088.5,342.3 1104.9,343.0 1121.2,342.3 1137.5,341.0 1150.0,337.5 1166.3,333.4 1182.6,327.9 1199.0,319.7 1215.3,312.2 1231.6,303.1 1247.9,292.6 1264.3,281.2 1280.6,269.8 1296.9,258.3 1313.2,248.5 1326.3,240.4 1345.9,232.2 1362.2,225.7 1378.5,219.2 1393.6,212.6 1411.2,208.4 1427.5,206.1 1440.0,205.2 1456.3,203.5 1472.6,201.8 1496.5,200.2 1515.1,201.2 1531.4,204.1 1542.5,207.0 1554.3,211.6 1565.7,217.5 1577.4,224.0 1588.8,231.9"/>
<polyline fill="none" stroke="rgba(0,128,0,0.66)" stroke-width="3.05" stroke-linejoin="round" stroke-linecap="round" points="6.5,664.5 17.5,720.8 29.5,720.8 40.5,720.8 52.5,714.5 63.5,714.5 75.5,714.5 86.5,693.4 98.5,673.9 109.5,654.3 121.5,635.7 132.5,626.2 144.5,619.3 155.5,607.6 166.5,581.1 178.5,569.4 189.5,569.4 201.5,569.4 212.5,569.4 224.5,569.4 235.5,569.4 247.5,569.4 258.5,569.4 270.5,569.4 281.5,569.4 293.5,569.4 304.5,569.4 316.5,560.7 327.5,546.0 338.5,516.4 350.5,507.0 361.5,490.5 373.5,490.5 384.5,490.5 396.5,467.4 407.5,434.5 419.5,416.2 430.5,404.6 442.5,385.4 453.5,356.7 465.5,334.2 476.5,334.2 487.5,334.2 499.5,334.2 510.5,327.3 522.5,307.1 533.5,307.1 545.5,307.0 556.5,307.0 568.5,307.0 579.5,307.0 591.5,306.9 602.5,306.9 614.5,306.9 625.5,306.8 637.5,306.8"/>
<polyline fill="none" stroke="rgba(128,0,0,0.67)" stroke-width="3.05" stroke-linejoin="round" stroke-linecap="round" points="637.5,306.8 648.5,226.9 659.5,236.0 671.5,239.8 682.5,254.8 694.5,260.1 705.5,260.1 717.5,260.2 728.5,260.2 740.5,260.2 751.5,260.2 763.5,260.3 774.5,260.3"/>
<polyline fill="none" stroke="rgba(0,128,0,0.66)" stroke-width="3.05" stroke-linejoin="round" stroke-linecap="round" points="774.5,260.3 786.5,333.4 797.5,325.0 808.5,324.3 820.5,324.3 831.5,324.3 843.5,324.3"/>
<polyline fill="none" stroke="rgba(128,0,0,0.67)" stroke-width="3.05" stroke-linejoin="round" stroke-linecap="round" points="843.5,324.3 854.5,266.8 866.5,266.9 877.5,266.9 889.5,284.2 900.5,293.7 912.5,303.8 923.5,316.2 935.5,316.2 946.5,316.2 958.5,316.2 969.5,316.2 980.5,316.2 992.5,316.2 1003.5,316.2 1015.5,316.2 1026.5,316.2 1038.5,316.2 1049.5,316.2 1061.5,316.2"/>
<polyline fill="none" stroke="rgba(0,128,0,0.66)" stroke-width="3.05" stroke-linejoin="round" stroke-linecap="round" points="1061.5,316.2 1072.5,385.4 1084.5,372.0 1095.5,360.0 1107.5,337.1 1118.5,337.1 1129.5,337.1 1141.5,337.1 1152.5,336.5 1164.5,336.0 1175.5,335.5 1187.5,335.1 1198.5,332.8 1210.5,332.8 1221.5,315.5 1233.5,282.8 1244.5,260.6 1256.5,260.6 1267.5,260.6 1279.5,237.1 1290.5,213.9 1301.5,212.0 1313.5,212.0 1324.5,212.0 1336.5,212.0 1347.5,212.0 1359.5,212.0 1370.5,212.0 1382.5,212.0 1393.5,212.0"/>
<polyline fill="none" stroke="rgba(128,0,0,0.67)" stroke-width="3.05" stroke-linejoin="round" stroke-linecap="round" points="1393.5,212.0 1405.5,142.8 1416.5,147.7 1428.5,172.5 1439.5,181.6 1450.5,185.5 1462.5,185.5 1473.5,185.5 1485.5,185.5 1496.5,185.5 1508.5,185.5 1519.5,185.5 1531.5,191.4 1542.5,213.3 1554.5,232.8 1565.5,250.8 1577.5,271.7 1588.5,273.3"/>
<g shape-rendering="crispEdges"><rect x="2" y="678" width="9" height="4" fill="#26a69a"/><rect x="13" y="659" width="9" height="8" fill="#26a69a"/><rect x="29" y="648" width="1" height="31" fill="#ef5350"/><rect x="25" y="648" width="9" height="14" fill="#ef5350"/><rect x="36" y="644" width="9" height="26" fill="#26a69a"/><rect x="48" y="629" width="9" height="37" fill="#ef5350"/><rect x="63" y="656" width="1" height="18" fill="#26a69a"/><rect x="59" y="663" width="9" height="11" fill="#26a69a"/><rect x="75" y="648" width="1" height="3" fill="#26a69a"/><rect x="71" y="648" width="9" height="1" fill="#26a69a"/><rect x="82" y="629" width="9" height="1" fill="#26a69a"/><rect x="94" y="610" width="9" height="1" fill="#26a69a"/><rect x="105" y="595" width="9" height="1" fill="#26a69a"/><rect x="117" y="575" width="9" height="1" fill="#26a69a"/><rect x="132" y="556" width="1" height="20" fill="#ef5350"/><rect x="128" y="556" width="9" height="14" fill="#ef5350"/><rect x="144" y="545" width="1" height="28" fill="#ef5350"/><rect x="140" y="558" width="9" height="2" fill="#ef5350"/><rect x="155" y="543" width="1" height="13" fill="#26a69a"/><rect x="151" y="543" width="9" height="8" fill="#26a69a"/><rect x="166" y="524" width="1" height="10" fill="#26a69a"/><rect x="162" y="524" width="9" height="1" fill="#26a69a"/><rect x="178" y="505" width="1" height="21" fill="#26a69a"/><rect x="174" y="505" width="9" height="5" fill="#26a69a"/><rect x="185" y="491" width="9" height="36" fill="#ef5350"/><rect x="201" y="524" width="1" height="22" fill="#26a69a"/><rect x="197" y="533" width="9" height="13" fill="#26a69a"/><rect x="212" y="526" width="1" height="30" fill="#26a69a"/><rect x="208" y="526" width="9" height="8" fill="#26a69a"/><rect x="220" y="508" width="9" height="40" fill="#ef5350"/><rect x="235" y="525" width="1" height="29" fill="#26a69a"/><rect x="231" y="538" width="9" height="16" fill="#26a69a"/><rect x="247" y="527" width="1" height="4" fill="#26a69a"/><rect x="243" y="527" width="9" height="1" fill="#26a69a"/><rect x="258" y="508" width="1" height="20" fill="#26a69a"/><rect x="254" y="508" width="9" height="1" fill="#26a69a"/><rect x="270" y="489" width="1" height="40" fill="#ef5350"/><rect x="266" y="489" width="9" height="20" fill="#ef5350"/><rect x="281" y="489" width="1" height="23" fill="#ef5350"/><rect x="277" y="493" width="9" height="19" fill="#ef5350"/><rect x="293" y="492" width="1" height="31" fill="#26a69a"/><rect x="289" y="504" width="9" height="19" fill="#26a69a"/><rect x="300" y="496" width="9" height="8" fill="#26a69a"/><rect x="316" y="477" width="1" height="19" fill="#26a69a"/><rect x="312" y="477" width="9" height="1" fill="#26a69a"/><rect x="327" y="459" width="1" height="29" fill="#26a69a"/><rect x="323" y="459" width="9" height="7" fill="#26a69a"/><rect x="338" y="442" width="1" height="20" fill="#26a69a"/><rect x="334" y="442" width="9" height="3" fill="#26a69a"/><rect x="350" y="428" width="1" height="28" fill="#26a69a"/><rect x="346" y="432" width="9" height="11" fill="#26a69a"/><rect x="361" y="417" width="1" height="16" fill="#26a69a"/><rect x="357" y="417" width="9" height="1" fill="#26a69a"/><rect x="373" y="399" width="1" height="40" fill="#ef5350"/><rect x="369" y="399" width="9" height="32" fill="#ef5350"/><rect x="384" y="407" width="1" height="30" fill="#26a69a"/><rect x="380" y="407" width="9" height="9" fill="#26a69a"/><rect x="396" y="390" width="1" height="18" fill="#26a69a"/><rect x="392" y="390" width="9" height="13" fill="#26a69a"/><rect x="403" y="371" width="9" height="1" fill="#26a69a"/><rect x="415" y="352" width="9" height="1" fill="#26a69a"/><rect x="430" y="332" width="1" height="15" fill="#26a69a"/><rect x="426" y="332" width="9" height="1" fill="#26a69a"/><rect x="438" y="313" width="9" height="18" fill="#26a69a"/><rect x="453" y="295" width="1" height="5" fill="#26a69a"/><rect x="449" y="295" width="9" height="1" fill="#26a69a"/><rect x="461" y="275" width="9" height="1" fill="#26a69a"/><rect x="476" y="256" width="1" height="40" fill="#ef5350"/><rect x="472" y="256" width="9" height="39" fill="#ef5350"/><rect x="487" y="286" width="1" height="11" fill="#ef5350"/><rect x="483" y="295" width="9" height="2" fill="#ef5350"/><rect x="495" y="276" width="9" height="38" fill="#26a69a"/><rect x="506" y="264" width="9" height="1" fill="#26a69a"/><rect x="518" y="245" width="9" height="1" fill="#26a69a"/><rect x="533" y="226" width="1" height="36" fill="#26a69a"/><rect x="529" y="226" width="9" height="16" fill="#26a69a"/><rect x="545" y="213" width="1" height="40" fill="#ef5350"/><rect x="541" y="213" width="9" height="21" fill="#ef5350"/><rect x="556" y="206" width="1" height="40" fill="#ef5350"/><rect x="552" y="206" width="9" height="30" fill="#ef5350"/><rect x="568" y="218" width="1" height="38" fill="#ef5350"/><rect x="564" y="230" width="9" height="26" fill="#ef5350"/><rect x="579" y="255" width="1" height="12" fill="#ef5350"/><rect x="575" y="264" width="9" height="3" fill="#ef5350"/><rect x="587" y="286" width="9" height="1" fill="#26a69a"/><rect x="598" y="306" width="9" height="1" fill="#26a69a"/><rect x="610" y="286" width="9" height="40" fill="#26a69a"/><rect x="625" y="285" width="1" height="22" fill="#26a69a"/><rect x="621" y="285" width="9" height="1" fill="#26a69a"/><rect x="633" y="271" width="9" height="36" fill="#ef5350"/><rect x="648" y="302" width="1" height="20" fill="#ef5350"/><rect x="644" y="321" width="9" height="1" fill="#ef5350"/><rect x="659" y="301" width="1" height="37" fill="#26a69a"/><rect x="655" y="318" width="9" height="7" fill="#26a69a"/><rect x="671" y="304" width="1" height="28" fill="#ef5350"/><rect x="667" y="314" width="9" height="18" fill="#ef5350"/><rect x="682" y="314" width="1" height="37" fill="#26a69a"/><rect x="678" y="349" width="9" height="2" fill="#26a69a"/><rect x="694" y="327" width="1" height="36" fill="#26a69a"/><rect x="690" y="327" width="9" height="13" fill="#26a69a"/><rect x="705" y="316" width="1" height="20" fill="#26a69a"/><rect x="701" y="316" width="9" height="1" fill="#26a69a"/><rect x="717" y="299" width="1" height="38" fill="#ef5350"/><rect x="713" y="303" width="9" height="18" fill="#ef5350"/><rect x="724" y="307" width="9" height="26" fill="#ef5350"/><rect x="740" y="314" width="1" height="18" fill="#26a69a"/><rect x="736" y="316" width="9" height="11" fill="#26a69a"/><rect x="751" y="306" width="1" height="20" fill="#26a69a"/><rect x="747" y="314" width="9" height="12" fill="#26a69a"/><rect x="759" y="289" width="9" height="9" fill="#26a69a"/><rect x="774" y="270" width="1" height="13" fill="#26a69a"/><rect x="770" y="270" width="9" height="4" fill="#26a69a"/><rect x="786" y="251" width="1" height="18" fill="#26a69a"/><rect x="782" y="251" width="9" height="2" fill="#26a69a"/><rect x="797" y="232" width="1" height="38" fill="#ef5350"/><rect x="793" y="232" width="9" height="20" fill="#ef5350"/><rect x="804" y="241" width="9" height="23" fill="#ef5350"/><rect x="816" y="280" width="9" height="1" fill="#26a69a"/><rect x="827" y="300" width="9" height="1" fill="#26a69a"/><rect x="839" y="320" width="9" height="1" fill="#26a69a"/><rect x="854" y="328" width="1" height="13" fill="#26a69a"/><rect x="850" y="340" width="9" height="1" fill="#26a69a"/><rect x="862" y="319" width="9" height="36" fill="#26a69a"/><rect x="877" y="330" width="1" height="17" fill="#ef5350"/><rect x="873" y="338" width="9" height="9" fill="#ef5350"/><rect x="889" y="351" width="1" height="12" fill="#26a69a"/><rect x="885" y="362" width="9" height="1" fill="#26a69a"/><rect x="900" y="354" width="1" height="29" fill="#26a69a"/><rect x="896" y="382" width="9" height="1" fill="#26a69a"/><rect x="908" y="358" width="9" height="40" fill="#ef5350"/><rect x="923" y="376" width="1" height="40" fill="#26a69a"/><rect x="919" y="376" width="9" height="39" fill="#26a69a"/><rect x="935" y="360" width="1" height="7" fill="#26a69a"/><rect x="931" y="360" width="9" height="2" fill="#26a69a"/><rect x="946" y="345" width="1" height="36" fill="#ef5350"/><rect x="942" y="346" width="9" height="35" fill="#ef5350"/><rect x="958" y="362" width="1" height="26" fill="#ef5350"/><rect x="954" y="375" width="9" height="9" fill="#ef5350"/><rect x="969" y="363" width="1" height="34" fill="#ef5350"/><rect x="965" y="376" width="9" height="21" fill="#ef5350"/><rect x="980" y="373" width="1" height="5" fill="#26a69a"/><rect x="976" y="373" width="9" height="1" fill="#26a69a"/><rect x="992" y="354" width="1" height="7" fill="#ef5350"/><rect x="988" y="357" width="9" height="3" fill="#ef5350"/><rect x="999" y="338" width="9" height="13" fill="#26a69a"/><rect x="1015" y="330" width="1" height="11" fill="#ef5350"/><rect x="1011" y="330" width="9" height="8" fill="#ef5350"/><rect x="1026" y="323" width="1" height="31" fill="#ef5350"/><rect x="1022" y="334" width="9" height="10" fill="#ef5350"/><rect x="1038" y="318" width="1" height="35" fill="#ef5350"/><rect x="1034" y="324" width="9" height="23" fill="#ef5350"/><rect x="1049" y="323" width="1" height="30" fill="#ef5350"/><rect x="1045" y="334" width="9" height="2" fill="#ef5350"/><rect x="1061" y="324" width="1" height="4" fill="#26a69a"/><rect x="1057" y="324" width="9" height="1" fill="#26a69a"/><rect x="1072" y="305" width="1" height="20" fill="#ef5350"/><rect x="1068" y="305" width="9" height="2" fill="#ef5350"/><rect x="1084" y="292" width="1" height="27" fill="#26a69a"/><rect x="1080" y="304" width="9" height="3" fill="#26a69a"/><rect x="1095" y="290" width="1" height="10" fill="#26a69a"/><rect x="1091" y="290" width="9" height="1" fill="#26a69a"/><rect x="1107" y="271" width="1" height="6" fill="#26a69a"/><rect x="1103" y="271" width="9" height="1" fill="#26a69a"/><rect x="1114" y="256" width="9" height="37" fill="#ef5350"/><rect x="1129" y="277" width="1" height="32" fill="#ef5350"/><rect x="1125" y="279" width="9" height="30" fill="#ef5350"/><rect x="1137" y="280" width="9" height="28" fill="#26a69a"/><rect x="1148" y="262" width="9" height="8" fill="#26a69a"/><rect x="1164" y="250" width="1" height="35" fill="#ef5350"/><rect x="1160" y="250" width="9" height="27" fill="#ef5350"/><rect x="1171" y="244" width="9" height="33" fill="#ef5350"/><rect x="1187" y="260" width="1" height="15" fill="#ef5350"/><rect x="1183" y="260" width="9" height="3" fill="#ef5350"/><rect x="1198" y="250" width="1" height="17" fill="#26a69a"/><rect x="1194" y="250" width="9" height="1" fill="#26a69a"/><rect x="1210" y="235" width="1" height="38" fill="#26a69a"/><rect x="1206" y="241" width="9" height="32" fill="#26a69a"/><rect x="1221" y="232" width="1" height="13" fill="#26a69a"/><rect x="1217" y="232" width="9" height="2" fill="#26a69a"/><rect x="1229" y="214" width="9" height="1" fill="#26a69a"/><rect x="1240" y="194" width="9" height="1" fill="#26a69a"/><rect x="1256" y="179" width="1" height="39" fill="#26a69a"/><rect x="1252" y="200" width="9" height="18" fill="#26a69a"/><rect x="1267" y="179" width="1" height="27" fill="#26a69a"/><rect x="1263" y="179" width="9" height="3" fill="#26a69a"/><rect x="1279" y="162" width="1" height="12" fill="#26a69a"/><rect x="1275" y="162" width="9" height="1" fill="#26a69a"/><rect x="1286" y="144" width="9" height="16" fill="#26a69a"/><rect x="1301" y="126" width="1" height="35" fill="#ef5350"/><rect x="1297" y="126" width="9" height="23" fill="#ef5350"/><rect x="1309" y="156" width="9" height="1" fill="#26a69a"/><rect x="1320" y="174" width="9" height="1" fill="#26a69a"/><rect x="1332" y="156" width="9" height="39" fill="#ef5350"/><rect x="1343" y="179" width="9" height="20" fill="#ef5350"/><rect x="1359" y="179" width="1" height="39" fill="#26a69a"/><rect x="1355" y="179" width="9" height="8" fill="#26a69a"/><rect x="1370" y="167" width="1" height="28" fill="#26a69a"/><rect x="1366" y="171" width="9" height="17" fill="#26a69a"/><rect x="1378" y="167" width="9" height="2" fill="#ef5350"/><rect x="1389" y="190" width="9" height="5" fill="#ef5350"/><rect x="1405" y="212" width="1" height="2" fill="#26a69a"/><rect x="1401" y="213" width="9" height="1" fill="#26a69a"/><rect x="1416" y="199" width="1" height="35" fill="#ef5350"/><rect x="1412" y="218" width="9" height="16" fill="#ef5350"/><rect x="1424" y="244" width="9" height="1" fill="#26a69a"/><rect x="1439" y="244" width="1" height="21" fill="#26a69a"/><rect x="1435" y="253" width="9" height="12" fill="#26a69a"/><rect x="1450" y="243" width="1" height="14" fill="#26a69a"/><rect x="1446" y="243" width="9" height="1" fill="#26a69a"/><rect x="1462" y="225" width="1" height="36" fill="#ef5350"/><rect x="1458" y="225" width="9" height="19" fill="#ef5350"/><rect x="1469" y="232" width="9" height="23" fill="#26a69a"/><rect x="1485" y="223" width="1" height="33" fill="#ef5350"/><rect x="1481" y="229" width="9" height="6" fill="#ef5350"/><rect x="1492" y="216" width="9" height="18" fill="#26a69a"/><rect x="1504" y="235" width="9" height="1" fill="#26a69a"/><rect x="1519" y="235" width="1" height="3" fill="#26a69a"/><rect x="1515" y="237" width="9" height="1" fill="#26a69a"/><rect x="1531" y="238" width="1" height="20" fill="#26a69a"/><rect x="1527" y="250" width="9" height="8" fill="#26a69a"/><rect x="1538" y="275" width="9" height="1" fill="#26a69a"/><rect x="1550" y="295" width="9" height="1" fill="#26a69a"/><rect x="1561" y="315" width="9" height="1" fill="#26a69a"/><rect x="1573" y="335" width="9" height="1" fill="#26a69a"/><rect x="1588" y="323" width="1" height="33" fill="#26a69a"/><rect x="1584" y="338" width="9" height="18" fill="#26a69a"/></g>
<path d="M16,672 h3 l-0.75,2 v3 l0.75,2 h-3 l0.75,-2 v-3 Z" fill="#48f748"/>
<path d="M647,290 h3 l-0.75,2 v3 l0.75,2 h-3 l0.75,-2 v-3 Z" fill="#f0605e"/>
<path d="M785,274 h3 l-0.75,2 v3 l0.75,2 h-3 l0.75,-2 v-3 Z" fill="#48f748"/>
<path d="M853,316 h3 l-0.75,2 v3 l0.75,2 h-3 l0.75,-2 v-3 Z" fill="#f0605e"/>
<path d="M1071,330 h3 l-0.75,2 v3 l0.75,2 h-3 l0.75,-2 v-3 Z" fill="#48f748"/>
<path d="M1404,200 h3 l-0.75,2 v3 l0.75,2 h-3 l0.75,-2 v-3 Z" fill="#f0605e"/>
</g>
<g shape-rendering="crispEdges" fill="#dfe0e4"><rect x="1801" y="44" width="1" height="777"/><rect x="7" y="793" width="1864" height="1"/><rect x="1802" y="56" width="4" height="1"/><rect x="1802" y="111" width="4" height="1"/><rect x="1802" y="172" width="4" height="1"/><rect x="1802" y="204" width="4" height="1"/><rect x="1802" y="238" width="4" height="1"/><rect x="1802" y="273" width="4" height="1"/><rect x="1802" y="303" width="4" height="1"/><rect x="1802" y="335" width="4" height="1"/><rect x="1802" y="368" width="4" height="1"/><rect x="1802" y="403" width="4" height="1"/><rect x="1802" y="439" width="4" height="1"/><rect x="1802" y="476" width="4" height="1"/><rect x="1802" y="514" width="4" height="1"/><rect x="1802" y="547" width="4" height="1"/><rect x="1802" y="581" width="4" height="1"/><rect x="1802" y="617" width="4" height="1"/><rect x="1802" y="649" width="4" height="1"/><rect x="1802" y="682" width="4" height="1"/><rect x="1802" y="717" width="4" height="1"/><rect x="1802" y="749" width="4" height="1"/><rect x="1802" y="780" width="4" height="1"/><rect x="63" y="794" width="1" height="4"/><rect x="144" y="794" width="1" height="4"/><rect x="224" y="794" width="1" height="4"/><rect x="304" y="794" width="1" height="4"/><rect x="407" y="794" width="1" height="4"/><rect x="487" y="794" width="1" height="4"/><rect x="625" y="794" width="1" height="4"/><rect x="705" y="794" width="1" height="4"/><rect x="820" y="794" width="1" height="4"/><rect x="900" y="794" width="1" height="4"/><rect x="1026" y="794" width="1" height="4"/><rect x="1107" y="794" width="1" height="4"/><rect x="1256" y="794" width="1" height="4"/><rect x="1336" y="794" width="1" height="4"/><rect x="1485" y="794" width="1" height="4"/><rect x="1577" y="794" width="1" height="4"/><rect x="1657" y="794" width="1" height="4"/><rect x="1737" y="794" width="1" height="4"/></g>
<g font-family="Liberation Sans, sans-serif" font-size="12.15" fill="#131722"><text transform="translate(1811.1,60.4) scale(0.96,1)">25000.00</text><text transform="translate(1811.1,115.5) scale(0.96,1)">23000.00</text><text transform="translate(1811.1,175.6) scale(0.96,1)">21000.00</text><text transform="translate(1811.1,207.8) scale(0.96,1)">20000.00</text><text transform="translate(1811.1,241.7) scale(0.96,1)">19000.00</text><text transform="translate(1811.1,307.5) scale(0.96,1)">17200.00</text><text transform="translate(1811.1,406.8) scale(0.96,1)">14800.00</text><text transform="translate(1811.1,443.5) scale(0.96,1)">14000.00</text><text transform="translate(1811.1,479.9) scale(0.96,1)">13250.00</text><text transform="translate(1811.1,518.4) scale(0.96,1)">12500.00</text><text transform="translate(1811.1,550.9) scale(0.96,1)">11900.00</text><text transform="translate(1811.1,585.1) scale(0.96,1)">11300.00</text><text transform="translate(1811.1,621.1) scale(0.96,1)">10700.00</text><text transform="translate(1811.1,652.8) scale(0.96,1)">10200.00</text><text transform="translate(1811.1,686.0) scale(0.96,1)">9700.00</text><text transform="translate(1811.1,720.9) scale(0.96,1)">9200.00</text><text transform="translate(1811.1,753.3) scale(0.96,1)">8760.00</text><text transform="translate(1811.1,784.2) scale(0.96,1)">8360.00</text></g>
<g font-family="Liberation Sans, sans-serif" font-size="12.15" font-weight="bold" fill="#fff"><path d="M1801,269 H1864 a2,2 0 0 1 2,2 V284 a2,2 0 0 1 -2,2 H1801 Z" fill="#2196f3"/><rect x="1801" y="277.0" width="5" height="1" fill="#fff" opacity="0.85" shape-rendering="crispEdges"/><text transform="translate(1811.2,282.1) scale(0.955,1)">17818.16</text><path d="M1801,286 H1864 a2,2 0 0 1 2,2 V301 a2,2 0 0 1 -2,2 H1801 Z" fill="#2196f3"/><rect x="1801" y="294.0" width="5" height="1" fill="#fff" opacity="0.85" shape-rendering="crispEdges"/><text transform="translate(1811.2,299.1) scale(0.955,1)">17435.30</text><path d="M1801,330 H1864 a2,2 0 0 1 2,2 V345 a2,2 0 0 1 -2,2 H1801 Z" fill="#26a69a"/><rect x="1801" y="338.0" width="5" height="1" fill="#fff" opacity="0.85" shape-rendering="crispEdges"/><text transform="translate(1811.2,343.1) scale(0.955,1)">16330.00</text><path d="M1801,347 H1864 a2,2 0 0 1 2,2 V362 a2,2 0 0 1 -2,2 H1801 Z" fill="#2196f3"/><rect x="1801" y="355.0" width="5" height="1" fill="#fff" opacity="0.85" shape-rendering="crispEdges"/><text transform="translate(1811.2,360.1) scale(0.955,1)">15990.03</text><path d="M1801,364 H1864 a2,2 0 0 1 2,2 V379 a2,2 0 0 1 -2,2 H1801 Z" fill="#2196f3"/><rect x="1801" y="372.0" width="5" height="1" fill="#fff" opacity="0.85" shape-rendering="crispEdges"/><text transform="translate(1811.2,377.1) scale(0.955,1)">15723.62</text></g>
<g font-family="Liberation Sans, sans-serif" font-size="12" fill="#131722" text-anchor="middle"><text transform="translate(63.1,811.3) scale(0.94,1)">20</text><text transform="translate(224.1,811.3) scale(0.94,1)">10</text><text transform="translate(304.1,811.3) scale(0.94,1)">21</text><text transform="translate(407.1,811.3) scale(0.94,1)" font-weight="bold">2025</text><text transform="translate(487.1,811.3) scale(0.94,1)">12</text><text transform="translate(705.1,811.3) scale(0.94,1)">15</text><text transform="translate(900.1,811.3) scale(0.94,1)">10</text><text transform="translate(1107.1,811.3) scale(0.94,1)">14</text><text transform="translate(1336.1,811.3) scale(0.94,1)">12</text><text transform="translate(1577.1,811.3) scale(0.94,1)">Jul</text><text transform="translate(1657.1,811.3) scale(0.94,1)">12</text><text transform="translate(1737.1,811.3) scale(0.94,1)">21</text></g>
<g font-family="Liberation Sans, sans-serif" font-size="12" fill="#131722" text-anchor="middle"><text x="144" y="811.3">دسامبر</text><text x="625" y="811.3">فوریه</text><text x="820" y="811.3">مارس</text><text x="1026" y="811.3">آوریل</text><text x="1256" y="811.3">می</text><text x="1485" y="811.3">ژوئن</text></g>
<path d="M6.5,43.5 H1871.5 V821.5 H6.5 Z" fill="none" stroke="#000" stroke-width="1" shape-rendering="crispEdges"/>
<text transform="translate(6.30,19.20) scale(0.8577,1)" font-family="Liberation Mono, monospace" font-size="13.6" fill="#45484f" xml:space="preserve">Published on TradingView.com, September 22, 2025 10:01:41 UTC</text>
<text transform="translate(6.30,34.00) scale(0.8577,1)" font-family="Liberation Mono, monospace" font-size="13.6" fill="#45484f">سیمارآ شناد و یروآ نف ناماگشیپ</text>
<text transform="translate(216.00,36.20) scale(0.8577,1)" font-family="Liberation Mono, monospace" font-size="13.6" fill="#45484f" xml:space="preserve">, D</text>
<text transform="translate(242.30,36.20) scale(0.8577,1)" font-family="Liberation Mono, monospace" font-size="13.6" fill="#45484f" xml:space="preserve">O:15910.00</text>
<text transform="translate(317.30,36.20) scale(0.8577,1)" font-family="Liberation Mono, monospace" font-size="13.6" fill="#45484f" xml:space="preserve">H:16700.00</text>
<text transform="translate(392.30,36.20) scale(0.8577,1)" font-family="Liberation Mono, monospace" font-size="13.6" fill="#45484f" xml:space="preserve">L:15910.00</text>
<text transform="translate(467.30,36.20) scale(0.8577,1)" font-family="Liberation Mono, monospace" font-size="13.6" fill="#45484f" xml:space="preserve">C:16330.00</text>
<text transform="translate(15.30,66.70) scale(0.8577,1)" font-family="Liberation Mono, monospace" font-size="13.6" fill="#45484f" xml:space="preserve">1D ,</text>
<text transform="translate(43.50,64.40) scale(0.8577,1)" font-family="Liberation Mono, monospace" font-size="13.6" fill="#45484f">سیمارآ شناد و یروآ نف ناماگشیپ</text>
<text transform="translate(15.30,82.60) scale(0.8577,1)" font-family="Liberation Mono, monospace" font-size="13.6" fill="#45484f">مجح</text>
<text transform="translate(15.30,100.80) scale(0.8577,1)" font-family="Liberation Mono, monospace" font-size="13.6" fill="#45484f" xml:space="preserve">SuperTrend (10, 3)</text>
<text transform="translate(15.30,117.90) scale(0.8577,1)" font-family="Liberation Mono, monospace" font-size="13.6" fill="#45484f" xml:space="preserve">MA (25, close, 0)</text>
<text transform="translate(15.30,135.10) scale(0.8577,1)" font-family="Liberation Mono, monospace" font-size="13.6" fill="#45484f" xml:space="preserve">Ichimoku (9, 26, 52, 26)</text>
<g fill="#131722"><path d="M6.1,833.2 H14.4 V844.7 H10.2 V837.6 H6.1 Z"/><circle cx="18.1" cy="835.5" r="2.25"/><path d="M21.9,833.2 H28.3 L23.6,844.7 H17.3 Z"/></g>
<text x="33.2" y="844.4" font-family="Liberation Sans, sans-serif" font-weight="bold" font-size="15.5" fill="#131722" letter-spacing="0">TradingView</text>
</svg></body></html>
